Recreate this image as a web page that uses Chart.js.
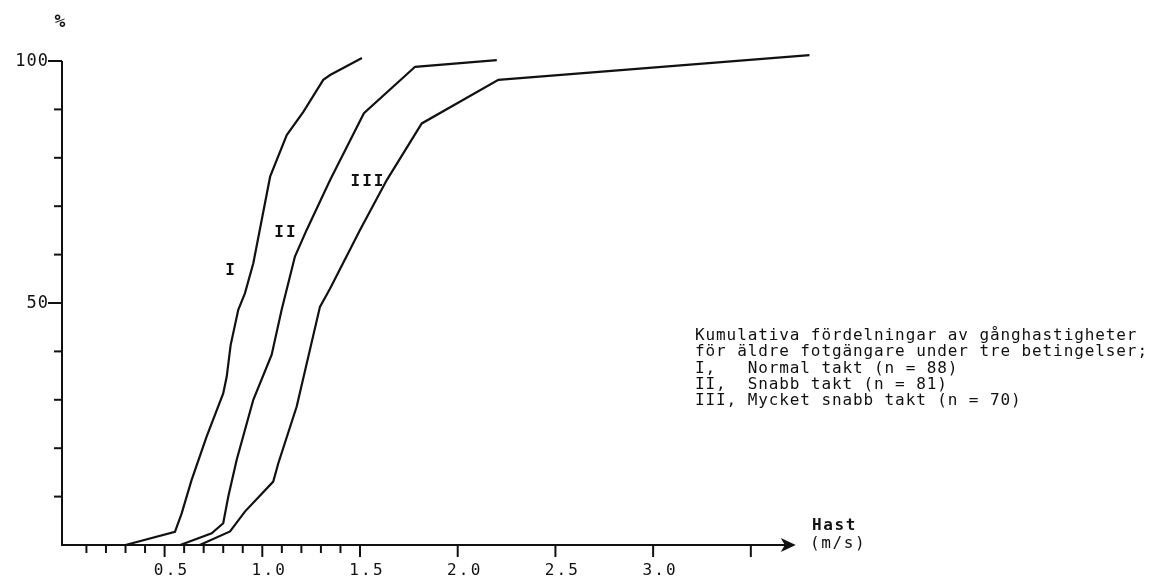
<!DOCTYPE html>
<html>
<head>
<meta charset="utf-8">
<script src="https://cdn.jsdelivr.net/npm/chart.js@4/dist/chart.umd.min.js"></script>
<style>
  html, body { margin: 0; background: #fff; }
  #wrap { width: 1154px; height: 578px; position: relative; }
</style>
</head>
<body>
<div id="wrap"><canvas id="chart"></canvas></div>
<script>
// Walking speed (m/s) against cumulative share (%)
const speedI  = [0.30, 0.553, 0.587, 0.638, 0.715, 0.80, 0.818, 0.838, 0.877, 0.911, 0.954, 1.04, 1.125, 1.21, 1.312, 1.347, 1.51];
const shareI  = [0, 2.7, 6.5, 13.4, 22.4, 31.3, 34.8, 41.3, 48.6, 52, 58.2, 76.1, 84.7, 89.5, 96.1, 97.1, 100.6];

const speedII = [0.58, 0.741, 0.80, 0.826, 0.869, 0.954, 1.048, 1.099, 1.167, 1.227, 1.347, 1.52, 1.782, 2.20];
const shareII = [0, 2.4, 4.5, 10, 17.6, 30, 39.3, 48.6, 59.6, 65.1, 75.4, 89.2, 98.8, 100.2];

const speedIII = [0.68, 0.835, 0.911, 1.056, 1.082, 1.176, 1.295, 1.347, 1.50, 1.637, 1.816, 2.208, 3.80];
const shareIII = [0, 2.8, 6.9, 13.1, 16.9, 28.6, 49.2, 53, 65.1, 75.4, 87.1, 96.1, 101.2];

const curveNames = ['I', 'II', 'III'];

const xMajorTicks = [0.5, 1.0, 1.5, 2.0, 2.5, 3.0, 3.5];
const xMinorTicks = [0.1, 0.2, 0.3, 0.4, 0.6, 0.7, 0.8, 0.9, 1.1, 1.2, 1.3, 1.4];
const xTickLabels = ['0.5', '1.0', '1.5', '2.0', '2.5', '3.0'];
const yTicks = [10, 20, 30, 40, 50, 60, 70, 80, 90, 100];
const yTickLabels = ['50', '100'];

const legendLines = [
  'Kumulativa fördelningar av gånghastigheter',
  'för äldre fotgängare under tre betingelser;',
  'I,   Normal takt (n = 88)',
  'II,  Snabb takt (n = 81)',
  'III, Mycket snabb takt (n = 70)'
];

const mono = '"DejaVu Sans Mono", "Liberation Mono", monospace';
const ink = '#111';

const toPoints = (xs, ys) => xs.map((x, i) => ({ x, y: ys[i] }));

// axes, ticks and all the typed text of the figure
const paperPlugin = {
  id: 'paper',
  afterDraw(chart) {
    const { ctx, scales: { x, y } } = chart;
    const x0 = x.getPixelForValue(-0.025);
    const y0 = y.getPixelForValue(0);
    ctx.save();
    ctx.strokeStyle = ink;
    ctx.fillStyle = ink;
    ctx.lineWidth = 2;

    // y axis
    ctx.beginPath();
    ctx.moveTo(x0, y.getPixelForValue(100));
    ctx.lineTo(x0, y0 + 1);
    ctx.stroke();
    yTicks.forEach(v => {
      const py = y.getPixelForValue(v);
      const len = v % 50 === 0 ? 14 : 8;
      ctx.beginPath();
      ctx.moveTo(x0 - len, py);
      ctx.lineTo(x0, py);
      ctx.stroke();
    });

    // x axis with arrow
    const tip = x.getPixelForValue(3.73);
    ctx.beginPath();
    ctx.moveTo(x0, y0);
    ctx.lineTo(tip - 6, y0);
    ctx.stroke();
    ctx.beginPath();
    ctx.moveTo(tip, y0);
    ctx.lineTo(tip - 15, y0 - 7);
    ctx.lineTo(tip - 11, y0);
    ctx.lineTo(tip - 15, y0 + 7);
    ctx.closePath();
    ctx.fill();

    xMinorTicks.forEach(v => {
      const px = x.getPixelForValue(v);
      ctx.beginPath();
      ctx.moveTo(px, y0);
      ctx.lineTo(px, y0 + 8);
      ctx.stroke();
    });
    xMajorTicks.forEach(v => {
      const px = x.getPixelForValue(v);
      ctx.beginPath();
      ctx.moveTo(px, y0);
      ctx.lineTo(px, y0 + 12);
      ctx.stroke();
    });

    // tick labels
    ctx.font = `16px ${mono}`;
    ctx.letterSpacing = '2.2px';
    ctx.textAlign = 'center';
    ctx.textBaseline = 'alphabetic';
    xTickLabels.forEach((t, i) => {
      ctx.fillText(t, x.getPixelForValue(xMajorTicks[i]) + 7, 575);
    });

    ctx.font = `17px ${mono}`;
    ctx.letterSpacing = '1px';
    ctx.textAlign = 'right';
    ctx.textBaseline = 'middle';
    yTickLabels.forEach(t => {
      ctx.fillText(t, x0 - 13, y.getPixelForValue(Number(t)) + 1);
    });

    // unit marks
    ctx.font = `bold 18px ${mono}`;
    ctx.letterSpacing = '0px';
    ctx.textAlign = 'center';
    ctx.fillText('%', x0 - 2, 22);

    ctx.font = `bold 16px ${mono}`;
    ctx.letterSpacing = '1.6px';
    ctx.textAlign = 'left';
    ctx.textBaseline = 'alphabetic';
    ctx.fillText('Hast', 812, 530);
    ctx.font = `16px ${mono}`;
    ctx.fillText('(m/s)', 810, 548);

    // curve names
    ctx.font = `bold 16px ${mono}`;
    ctx.letterSpacing = '2px';
    ctx.textAlign = 'center';
    ctx.textBaseline = 'middle';
    const nameAt = [[0.835, 56.6], [1.116, 64.5], [1.536, 75.1]];
    curveNames.forEach((n, i) => {
      ctx.fillText(n, x.getPixelForValue(nameAt[i][0]) + 1, y.getPixelForValue(nameAt[i][1]));
    });

    // caption
    ctx.font = `16px ${mono}`;
    ctx.letterSpacing = '0.9px';
    ctx.textAlign = 'left';
    ctx.textBaseline = 'alphabetic';
    legendLines.forEach((line, i) => {
      ctx.fillText(line, 695, 340 + i * 16.3);
    });

    ctx.restore();
  }
};

const lineStyle = {
  borderColor: ink,
  borderWidth: 2.2,
  pointRadius: 0,
  tension: 0,
  fill: false,
  clip: false
};

const ctx = document.querySelector('#chart').getContext('2d');
const chart = new Chart(ctx, {
  type: 'line',
  data: {
    datasets: [
      { label: curveNames[0], data: toPoints(speedI, shareI), ...lineStyle },
      { label: curveNames[1], data: toPoints(speedII, shareII), ...lineStyle },
      { label: curveNames[2], data: toPoints(speedIII, shareIII), ...lineStyle }
    ]
  },
  options: {
    responsive: true,
    maintainAspectRatio: false,
    animation: false,
    layout: {
      padding: { left: 62, right: 325, top: 12.6, bottom: 33 }
    },
    plugins: {
      legend: { display: false },
      tooltip: { enabled: false }
    },
    scales: {
      x: { type: 'linear', min: -0.025, max: 3.9, display: false },
      y: { min: 0, max: 110, display: false }
    }
  },
  plugins: [paperPlugin]
});
</script>
</body>
</html>
